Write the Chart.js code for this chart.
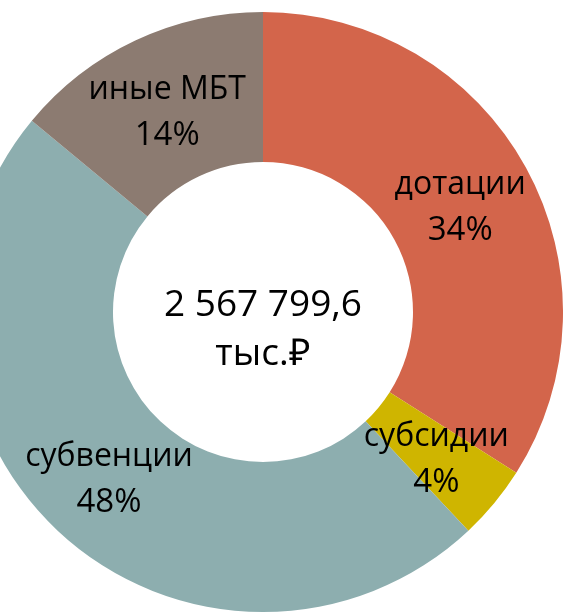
<!DOCTYPE html>
<html>
<head>
<meta charset="utf-8">
<script src="https://cdn.jsdelivr.net/npm/chart.js@4"></script>
<style>
  html, body { margin: 0; padding: 0; background: #fff; overflow: hidden; }
  #wrap { position: relative; width: 566px; height: 612px; overflow: hidden; }
  #chart { position: absolute; left: -37px; top: 12px; }
</style>
</head>
<body>
<div id="wrap"><canvas id="chart" width="600" height="600"></canvas></div>
<script>
// budget transfers structure
const categories = ['дотации', 'субсидии', 'субвенции', 'иные МБТ'];
const shares = [34, 4, 48, 14];
const colors = ['#D3654B', '#CFB500', '#8DAEAF', '#8C7B71'];
const centerLines = ['2 567 799,6', 'тыс.₽'];

const FONT = '"Open Sans", sans-serif';

// draws "name / pct" at the middle of each arc and the total in the hole
const labelPlugin = {
    id: 'sliceLabels',
    afterDatasetsDraw(chart) {
        const ctx = chart.ctx;
        const meta = chart.getDatasetMeta(0);
        ctx.save();
        ctx.fillStyle = '#000';
        ctx.textAlign = 'center';
        ctx.textBaseline = 'middle';
        meta.data.forEach((arc, i) => {
            const p = arc.getCenterPoint();
            ctx.font = '32px ' + FONT;
            ctx.fillText(categories[i], p.x, p.y - 19);
            ctx.font = '33px ' + FONT;
            ctx.fillText(shares[i] + '%', p.x, p.y + 27);
        });
        const c = meta.data[0];
        ctx.font = '37px ' + FONT;
        ctx.fillText(centerLines[0], c.x, c.y - 7);
        ctx.fillText(centerLines[1], c.x, c.y + 42);
        ctx.restore();
    }
};

new Chart(document.getElementById('chart'), {
    type: 'doughnut',
    data: {
        labels: categories,
        datasets: [{
            data: shares,
            backgroundColor: colors,
            borderWidth: 0
        }]
    },
    options: {
        responsive: false,
        animation: false,
        cutout: '50%',
        layout: { padding: 0 },
        plugins: {
            legend: { display: false },
            tooltip: { enabled: false }
        }
    },
    plugins: [labelPlugin]
});
</script>
</body>
</html>
